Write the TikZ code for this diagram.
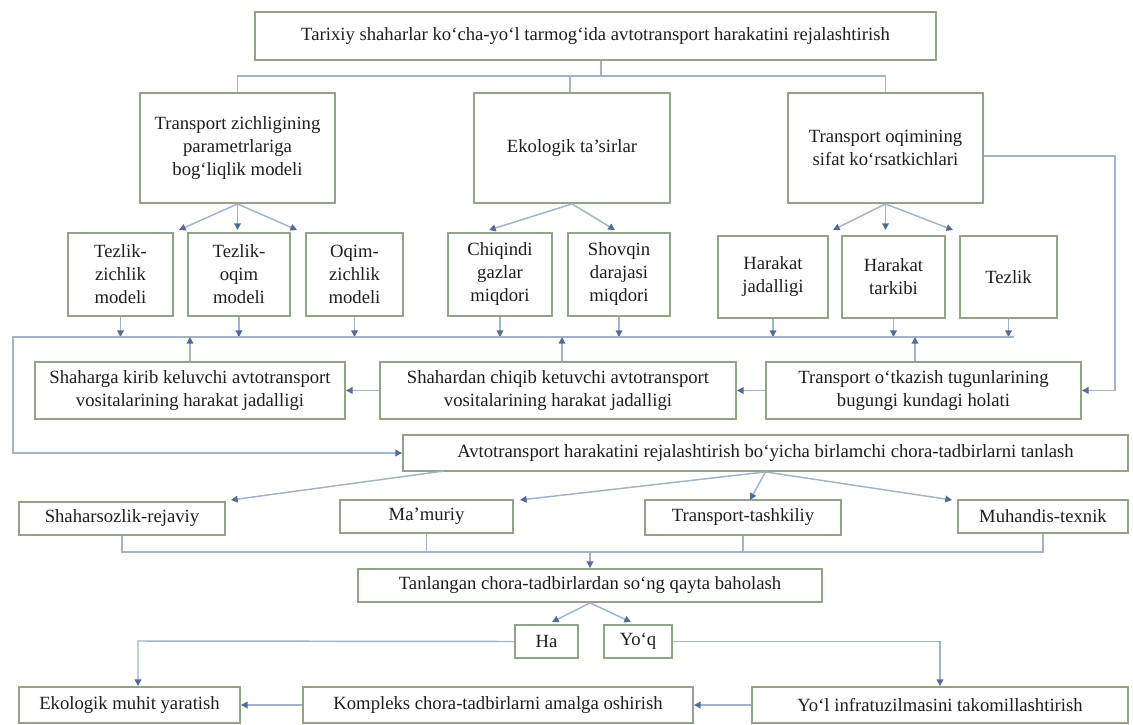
\documentclass[tikz,border=0pt]{standalone}
\usepackage{fontspec}
\setmainfont{Liberation Serif}
\usetikzlibrary{arrows.meta,calc}
\definecolor{bordc}{HTML}{93A386}
\definecolor{linec}{HTML}{A3B4C9}
\definecolor{arrc}{HTML}{506D99}
\definecolor{txtc}{HTML}{1E1E1E}
\newcommand{\mybox}[6]{\node[bx, minimum width={(#4-#2)*0.75pt}, minimum height={(#5-#3)*0.75pt}] (#1) at ({(#2+#4)/2},{(#3+#5)/2}) {#6};}
\tikzset{
  bx/.style={draw=bordc, line width=1.4pt, fill=white, inner sep=1pt, align=center, text=txtc, font=\fontsize{14}{17.25}\selectfont},
  conn/.style={draw=linec, line width=1.1pt},
  conna/.style={conn, -{Triangle[length=5pt,width=5pt,color=arrc]}}
}
\begin{document}
\begin{tikzpicture}[x=0.75pt,y=-0.75pt]
\useasboundingbox (0,0) rectangle (1133,725);
\fill[white] (0,0) rectangle (1133,725);

% boxes
\mybox{top}{255}{12}{936}{60}{Tarixiy shaharlar ko‘cha-yo‘l tarmog‘ida avtotransport harakatini rejalashtirish}
\mybox{A}{140}{93}{335}{203}{Transport zichligining\\parametrlariga\\bog‘liqlik modeli}
\mybox{B}{474}{93}{670}{203}{Ekologik ta’sirlar}
\mybox{C}{788}{93}{983}{203}{Transport oqimining\\sifat ko‘rsatkichlari}
\mybox{s1}{68}{233}{173}{316}{Tezlik-\\zichlik\\modeli}
\mybox{s2}{188}{233}{290}{316}{Tezlik-\\oqim\\modeli}
\mybox{s3}{306}{233}{403}{316}{Oqim-\\zichlik\\modeli}
\mybox{s4}{448}{233}{552}{316}{Chiqindi\\gazlar\\miqdori}
\mybox{s5}{568}{233}{670}{316}{Shovqin\\darajasi\\miqdori}
\mybox{s6}{718}{236}{828}{318}{Harakat\\jadalligi}
\mybox{s7}{842}{236}{945}{318}{Harakat\\tarkibi}
\mybox{s8}{960}{236}{1057}{318}{Tezlik}
\mybox{m1}{35}{362}{345}{419}{Shaharga kirib keluvchi avtotransport\\vositalarining harakat jadalligi}
\mybox{m2}{380}{362}{736}{419}{Shahardan chiqib ketuvchi avtotransport\\vositalarining harakat jadalligi}
\mybox{m3}{766}{362}{1081}{419}{Transport o‘tkazish tugunlarining\\bugungi kundagi holati}
\mybox{av}{403}{435}{1128}{471}{Avtotransport harakatini rejalashtirish bo‘yicha birlamchi chora-tadbirlarni tanlash}
\mybox{c1}{19}{502}{225}{535}{Shaharsozlik-rejaviy}
\mybox{c2}{340}{500}{513}{533}{Ma’muriy}
\mybox{c3}{645}{500}{841}{535}{Transport-tashkiliy}
\mybox{c4}{958}{500}{1128}{533}{Muhandis-texnik}
\mybox{tb}{358}{569}{822}{602}{Tanlangan chora-tadbirlardan so‘ng qayta baholash}
\mybox{ha}{515}{625}{578}{658}{Ha}
\mybox{yq}{604}{625}{672}{658}{Yo‘q}
\mybox{e1}{19}{687}{240}{723}{Ekologik muhit yaratish}
\mybox{e2}{303}{687}{693}{723}{Kompleks chora-tadbirlarni amalga oshirish}
\mybox{e3}{752}{687}{1128}{723}{Yo‘l infratuzilmasini takomillashtirish}

% coordinates
\coordinate (j1) at (601,76);
\coordinate (ta1) at (179,230);
\coordinate (ta3) at (297,230);
\coordinate (tb1) at (489,230);
\coordinate (tb2) at (615,230);
\coordinate (tc1) at (833,230);
\coordinate (tc3) at (953,230);
\coordinate (hl) at (13,337);
\coordinate (hr) at (1014,337);
\coordinate (u1) at (190,337);
\coordinate (u2) at (562,337);
\coordinate (u3) at (915,337);
\coordinate (rc) at (1115,156);
\coordinate (avl) at (444,471);
\coordinate (tc1b) at (231,500);
\coordinate (tc2b) at (520,500);
\coordinate (tc3b) at (750,500);
\coordinate (tc4b) at (952,500);
\coordinate (h2) at (0,552);
\coordinate (tha) at (552,622);
\coordinate (tyq) at (631,622);
\coordinate (hk) at (138,641);

% top tree
\draw[conn] (top.south -| j1) -- (j1);
\draw[conn] (A.north) -- (A.north |- j1) -- (C.north |- j1) -- (C.north);
\draw[conn] ([xshift=-1.5pt]B.north) -- ([xshift=-1.5pt]B.north |- j1);

% fan-outs
\draw[conna] (A.south) -- (ta1);
\draw[conna] (A.south) -- (A.south |- ta1);
\draw[conna] (A.south) -- (ta3);
\draw[conna] (B.south) -- (tb1);
\draw[conna] (B.south) -- (tb2);
\draw[conna] (C.south) -- (tc1);
\draw[conna] (C.south) -- (C.south |- tc1);
\draw[conna] (C.south) -- (tc3);

% small boxes down to the collector line
\foreach \n in {s1,s2,s3,s4,s5,s6,s7,s8} {
  \draw[conna] (\n.south) -- (\n.south |- hl);
}
\draw[conna] (hr) -- (hl) |- (av.west);

% middle row up
\draw[conna] (m1.north -| u1) -- (u1);
\draw[conna] (m2.north -| u2) -- (u2);
\draw[conna] (m3.north -| u3) -- (u3);

% right feedback
\draw[conna] (C.east |- rc) -- (rc) |- (m3.east);
\draw[conna] (m3.west) -- (m2.east);
\draw[conna] (m2.west) -- (m1.east);

% measures
\draw[conna] (avl) -- (tc1b);
\draw[conna] (av.south) -- (tc2b);
\draw[conna] (av.south) -- (tc3b);
\draw[conna] (av.south) -- (tc4b);

\draw[conn] (c1.south) -- (c1.south |- h2) -- (c4.south |- h2) -- (c4.south);
\draw[conn] (c2.south) -- (c2.south |- h2);
\draw[conn] (c3.south) -- (c3.south |- h2);
\draw[conna] (tb.north |- h2) -- (tb.north);

% evaluation
\draw[conna] (tb.south) -- (tha);
\draw[conna] (tb.south) -- (tyq);
\draw[conna] (ha.west) -- (hk) -- (hk |- e1.north);
\draw[conna] (yq.east) -| (e3.north);
\draw[conna] (e3.west) -- (e2.east);
\draw[conna] (e2.west) -- (e1.east);
\end{tikzpicture}
\end{document}
